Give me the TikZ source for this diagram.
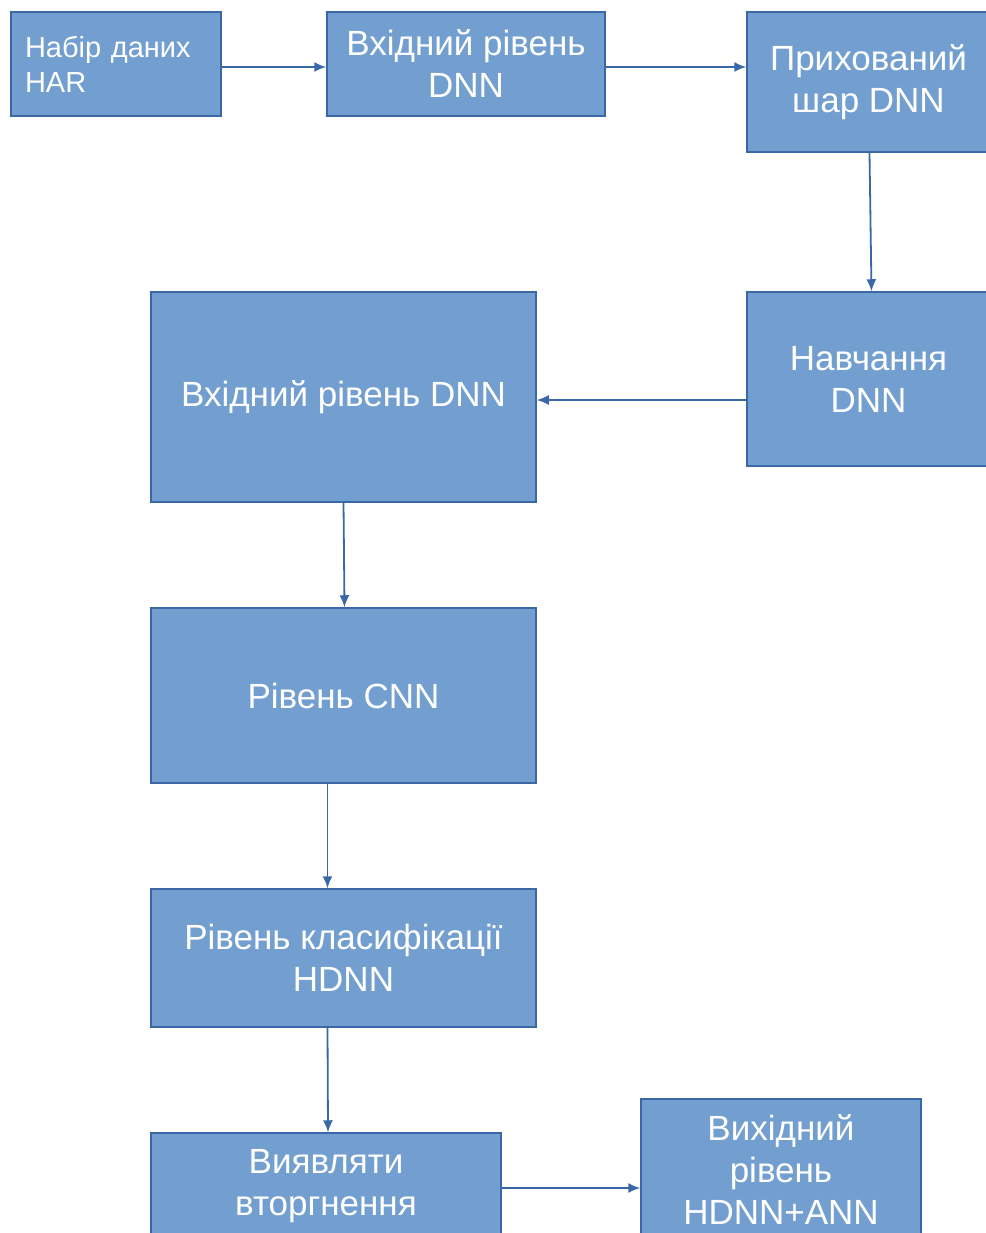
\documentclass[tikz,border=0pt]{standalone}
\usepackage{fontspec}
\setmainfont{Liberation Sans}
\usepackage{xcolor}
\usetikzlibrary{arrows.meta,positioning}
\definecolor{boxFill}{HTML}{729FCF}
\definecolor{boxLine}{HTML}{3A68A6}

\begin{document}
\begin{tikzpicture}[
    x=1pt, y=-1pt,
    box/.style={draw=boxLine, line width=1.5pt, fill=boxFill, align=center, text=white,
      inner sep=0pt, font=\fontsize{35}{42}\selectfont},
    arrow/.style={-{Latex[length=12pt,width=10pt]}, draw=boxLine, line width=1.8pt}
  ]
    \useasboundingbox (0,0) rectangle (985,1233);
    % top row
    \node[box, minimum width=210pt, minimum height=104pt, text width=182pt, align=left,
      font=\fontsize{29}{35}\selectfont] (har) at (116,64) {Набір даних\\HAR};
    \node[box, minimum width=278pt, minimum height=104pt] (inDnn) at (466,64) {Вхідний рівень\\DNN};
    \node[box, minimum width=243pt, minimum height=140pt] (hidden) at (868.5,82) {Прихований\\шар DNN};
    \node[box, minimum width=243pt, minimum height=174pt] (train) at (868.5,379) {Навчання\\DNN};
    % left column
    \node[box, minimum width=385pt, minimum height=210pt] (inDnnB) at (343.5,397) {Вхідний рівень DNN};
    \node[box, minimum width=385pt, minimum height=175pt] (cnn) at (343.5,695.5) {Рівень CNN};
    \node[box, minimum width=385pt, minimum height=138pt] (cls) at (343.5,958) {Рівень класифікації\\HDNN};
    % bottom row
    \node[box, minimum width=350pt, minimum height=106pt] (detect) at (326,1186) {Виявляти\\вторгнення};
    \node[box, minimum width=280pt, minimum height=140pt] (out) at (781,1169) {Вихідний\\рівень\\HDNN+ANN};
    \draw[arrow] ([yshift=-3pt]har.east) -- ([yshift=-3pt]inDnn.west);
    \draw[arrow] ([yshift=-3pt]inDnn.east) -- ([yshift=-3pt]hidden.west |- inDnn.east);
    \draw[arrow] ([xshift=1pt]hidden.south) -- ([xshift=3pt]train.north);
    \draw[arrow] ([yshift=-21pt]train.west) -- ([yshift=-21pt]inDnnB.east |- train.west);
    \draw[arrow] (inDnnB.south) -- ([xshift=1pt]cnn.north);
    \draw[arrow] ([xshift=-16pt]cnn.south) -- ([xshift=-16pt]cls.north);
    \draw[arrow] ([xshift=-16pt]cls.south) -- ([xshift=2pt]detect.north);
    \draw[arrow] ([yshift=-2pt]detect.east) -- ([yshift=-2pt]out.west |- detect.east);
  \end{tikzpicture}
\end{document}
